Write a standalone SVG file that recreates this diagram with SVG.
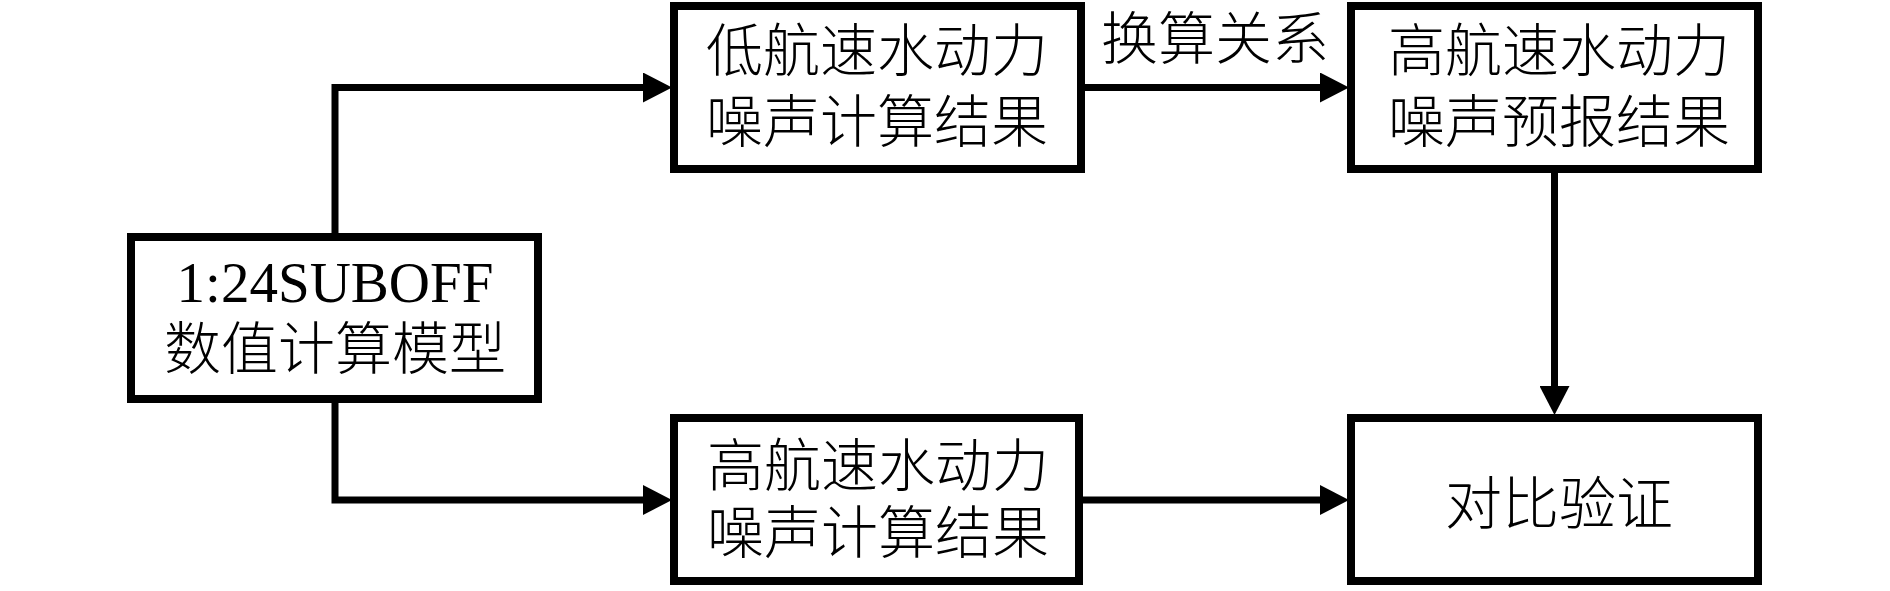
<svg xmlns="http://www.w3.org/2000/svg" width="1890" height="591" viewBox="0 0 1890 591">
  <style>
    .box { fill: #ffffff; stroke: #000000; stroke-width: 8; }
    .conn { fill: none; stroke: #000000; stroke-width: 7; stroke-linejoin: miter; }
    .t { font-family: "Liberation Serif", "Noto Sans CJK SC", serif; font-size: 57px; font-weight: 300; fill: #000000; text-anchor: middle; }
  </style>
  <defs>
    <marker id="arrow" markerUnits="userSpaceOnUse" markerWidth="30" markerHeight="30" refX="0" refY="15" orient="auto" viewBox="0 0 30 30">
      <path d="M0,0 L29,15 L0,30 Z" fill="#000000"/>
    </marker>
  </defs>
  <rect width="1890" height="591" fill="#ffffff"/>

  <g id="connectors">
    <path class="conn" d="M335,237 V87.5 H643" marker-end="url(#arrow)"/>
    <path class="conn" d="M335,399 V500 H643" marker-end="url(#arrow)"/>
    <path class="conn" d="M1081,87.5 H1320" marker-end="url(#arrow)"/>
    <path class="conn" d="M1554.5,169 V386" marker-end="url(#arrow)"/>
    <path class="conn" d="M1079,500 H1320" marker-end="url(#arrow)"/>
    <text class="t" x="1215" y="58.5">换算关系</text>
  </g>

  <g id="node-model">
    <rect class="box" x="131" y="237" width="407" height="162"/>
    <text class="t" x="335" y="302">1:24SUBOFF</text>
    <text class="t" x="335" y="369">数值计算模型</text>
  </g>

  <g id="node-low-speed">
    <rect class="box" x="674" y="6" width="407" height="163"/>
    <text class="t" x="877" y="71">低航速水动力</text>
    <text class="t" x="877" y="142">噪声计算结果</text>
  </g>

  <g id="node-high-forecast">
    <rect class="box" x="1351" y="6" width="407" height="163"/>
    <text class="t" x="1559" y="71">高航速水动力</text>
    <text class="t" x="1559" y="142">噪声预报结果</text>
  </g>

  <g id="node-high-calc">
    <rect class="box" x="674" y="418" width="405" height="163"/>
    <text class="t" x="878" y="486">高航速水动力</text>
    <text class="t" x="878" y="553">噪声计算结果</text>
  </g>

  <g id="node-compare">
    <rect class="box" x="1351" y="418" width="407" height="163"/>
    <text class="t" x="1559" y="524">对比验证</text>
  </g>
</svg>
